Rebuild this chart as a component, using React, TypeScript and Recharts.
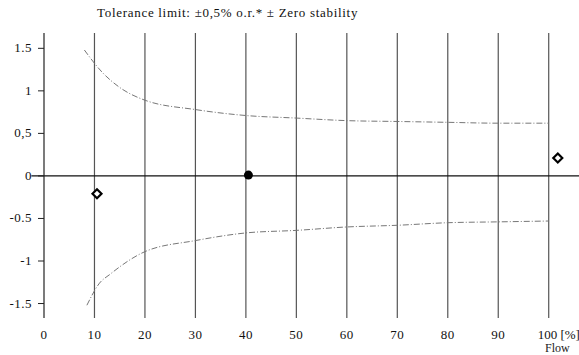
import { ComposedChart, Line, Scatter, XAxis, YAxis, ReferenceLine } from "recharts";

// flow [%] positions of the vertical grid lines
const gridFlows = [10, 20, 30, 40, 50, 60, 70, 80, 90, 100];
const xTicks = [0, 10, 20, 30, 40, 50, 60, 70, 80, 90, 100];
const yTicks = [-1.5, -1, -0.5, 0, 0.5, 1, 1.5];
const yTickLabels: Record<string, string> = {
  "1.5": "1.5",
  "1": "1",
  "0.5": "0,5",
  "0": "0",
  "-0.5": "-0.5",
  "-1": "-1",
  "-1.5": "-1.5",
};

// tolerance limit curves
const upperLimit = [
  { flow: 8, v: 1.48 },
  { flow: 11.5, v: 1.22 },
  { flow: 15, v: 1.04 },
  { flow: 20, v: 0.89 },
  { flow: 30, v: 0.78 },
  { flow: 40, v: 0.71 },
  { flow: 50, v: 0.68 },
  { flow: 60, v: 0.65 },
  { flow: 70, v: 0.64 },
  { flow: 80, v: 0.63 },
  { flow: 90, v: 0.62 },
  { flow: 100, v: 0.62 },
];
const lowerLimit = [
  { flow: 8.5, v: -1.52 },
  { flow: 11, v: -1.26 },
  { flow: 13, v: -1.16 },
  { flow: 20, v: -0.89 },
  { flow: 30, v: -0.76 },
  { flow: 40, v: -0.67 },
  { flow: 50, v: -0.64 },
  { flow: 60, v: -0.6 },
  { flow: 70, v: -0.58 },
  { flow: 80, v: -0.55 },
  { flow: 90, v: -0.54 },
  { flow: 100, v: -0.53 },
];

// measured points
const diamondPoints = [
  { flow: 10.5, v: -0.21 },
  { flow: 101.8, v: 0.21 },
];
const dotPoints = [{ flow: 40.5, v: 0.01 }];

const FONT = "'Liberation Serif', 'DejaVu Serif', serif";

const Diamond = (props: any) => {
  const { cx, cy } = props;
  const r = 4.5;
  return (
    <polygon
      points={`${cx},${cy - r} ${cx + r},${cy} ${cx},${cy + r} ${cx - r},${cy}`}
      fill="#fff"
      stroke="#000"
      strokeWidth={2.2}
    />
  );
};

const Dot = (props: any) => <circle cx={props.cx} cy={props.cy} r={4.5} fill="#000" />;

const XTick = (props: any) => {
  const { x, y, payload } = props;
  if (payload.value === 100) {
    return (
      <text x={x - 11} y={y} dy={13} fontFamily={FONT} fontSize={13} fill="#111" textAnchor="start">
        100 [%]
      </text>
    );
  }
  return (
    <text x={x} y={y} dy={13} fontFamily={FONT} fontSize={13} letterSpacing={0.5} fill="#111" textAnchor="middle">
      {payload.value}
    </text>
  );
};

const YTick = (props: any) => {
  const { x, y, payload } = props;
  return (
    <text x={x - 4} y={y} dy={4} fontFamily={FONT} fontSize={13} letterSpacing={0.5} fill="#111" textAnchor="end">
      {yTickLabels[String(payload.value)]}
    </text>
  );
};

export default function App() {
  return (
    <div style={{ position: "absolute", left: 0, top: 0, width: 579, height: 355, background: "#fff" }}>
      <div
        style={{
          position: "absolute",
          left: 97,
          top: 5,
          fontFamily: FONT,
          fontSize: 13,
          letterSpacing: 0.7,
          color: "#111",
          whiteSpace: "nowrap",
        }}
      >
        Tolerance limit: ±0,5% o.r.* ± Zero stability
      </div>
      <div
        style={{
          position: "absolute",
          left: 545,
          top: 341,
          fontFamily: FONT,
          fontSize: 12,
          color: "#222",
        }}
      >
        Flow
      </div>
      <ComposedChart width={579} height={355} margin={{ top: 33, right: 0, bottom: 0, left: 0 }}>
        <XAxis
          type="number"
          dataKey="flow"
          domain={[0, 106]}
          ticks={xTicks}
          allowDataOverflow
          axisLine={false}
          tickLine={false}
          height={37}
          tick={<XTick />}
        />
        <YAxis
          type="number"
          dataKey="v"
          domain={[-1.67, 1.68]}
          ticks={yTicks}
          allowDataOverflow
          width={44}
          axisLine={{ stroke: "#222", strokeWidth: 1.2 }}
          tickLine={{ stroke: "#222" }}
          tickSize={6}
          tick={<YTick />}
        />
        {gridFlows.map((f) => (
          <ReferenceLine key={f} x={f} stroke="#555" strokeWidth={1.2} />
        ))}
        <ReferenceLine
          segment={[
            { x: -2.5, y: 0 },
            { x: 106, y: 0 },
          ]}
          ifOverflow="visible"
          stroke="#111"
          strokeWidth={1.2}
        />
        <Line
          data={upperLimit}
          dataKey="v"
          type="monotone"
          stroke="#777"
          strokeWidth={1}
          strokeDasharray="6 2 1 2"
          dot={false}
          isAnimationActive={false}
        />
        <Line
          data={lowerLimit}
          dataKey="v"
          type="monotone"
          stroke="#777"
          strokeWidth={1}
          strokeDasharray="6 2 1 2"
          dot={false}
          isAnimationActive={false}
        />
        <Scatter data={diamondPoints} dataKey="v" shape={<Diamond />} isAnimationActive={false} />
        <Scatter data={dotPoints} dataKey="v" shape={<Dot />} isAnimationActive={false} />
      </ComposedChart>
    </div>
  );
}
